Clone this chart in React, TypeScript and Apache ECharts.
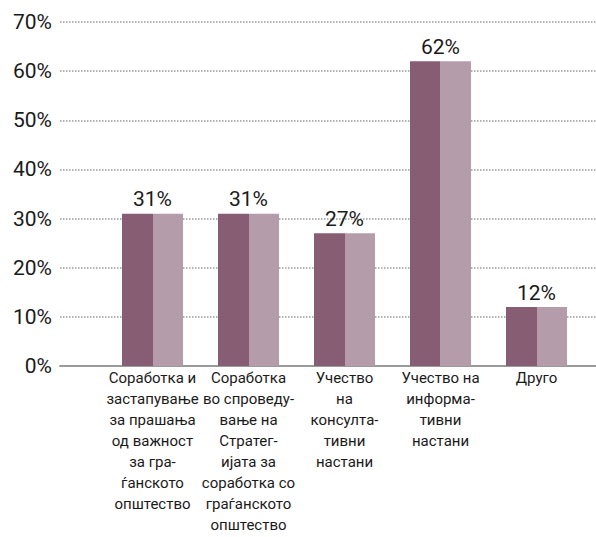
import React, { useEffect, useRef } from "react";
import * as echarts from "echarts";

const categories: string[] = [
  "Соработка и\nзастапување\nза прашања\nод важност\nза гра-\nѓанското\nопштество",
  "Соработка\nво спроведу-\nвање на\nСтратег-\nијата за\nсоработка со\nграѓанското\nопштество",
  "Учество\nна\nконсулта-\nтивни\nнастани",
  "Учество на\nинформа-\nтивни\nнастани",
  "Друго",
];
const values: number[] = [31, 31, 27, 62, 12];
const yTicks: number[] = [0, 10, 20, 30, 40, 50, 60, 70];

const DARK = "#875d74";
const LIGHT = "#b59cab";
const FONT = "Roboto, sans-serif";

export default function App() {
  const ref = useRef<HTMLDivElement>(null);
  useEffect(() => {
    document.body.style.margin = "0";
    if (!ref.current) return;
    const chart = echarts.init(ref.current, null, { renderer: "svg" });
    const barFill = new echarts.graphic.LinearGradient(0, 0, 1, 0, [
      { offset: 0, color: DARK },
      { offset: 0.5, color: DARK },
      { offset: 0.5, color: LIGHT },
      { offset: 1, color: LIGHT },
    ]);
    chart.setOption({
      animation: false,
      backgroundColor: "#ffffff",
      textStyle: { fontFamily: FONT },
      grid: [
        { left: 60, right: 0, top: 22, bottom: 171 },
        { left: 104.5, width: 480, top: 22, bottom: 171 },
      ],
      xAxis: [
        {
          type: "value",
          gridIndex: 0,
          min: 0,
          max: 1,
          axisLine: { show: true, lineStyle: { color: "#9a9a9a", width: 2 } },
          axisTick: { show: false },
          axisLabel: { show: false },
          splitLine: { show: false },
        },
        {
          type: "category",
          gridIndex: 1,
          data: categories,
          axisLine: { show: false },
          axisTick: { show: false },
          axisLabel: {
            interval: 0,
            margin: 1,
            fontSize: 15,
            lineHeight: 21,
            color: "#1a1a1a",
            fontFamily: FONT,
            align: "center",
          },
        },
      ],
      yAxis: [
        {
          type: "value",
          gridIndex: 0,
          min: yTicks[0],
          max: yTicks[yTicks.length - 1],
          interval: 10,
          axisLine: { show: false },
          axisTick: { show: false },
          axisLabel: {
            margin: 8,
            fontSize: 21,
            color: "#1a1a1a",
            fontFamily: FONT,
            formatter: (v: number) => `${v}%`,
          },
          splitLine: {
            show: true,
            lineStyle: { color: "#9a9a9a", width: 1.5, type: [1.5, 1.5] },
          },
        },
        {
          type: "value",
          gridIndex: 1,
          min: yTicks[0],
          max: yTicks[yTicks.length - 1],
          interval: 10,
          show: false,
          splitLine: { show: false },
        },
      ],
      series: [
        {
          type: "bar",
          xAxisIndex: 1,
          yAxisIndex: 1,
          data: values,
          barWidth: 61,
          itemStyle: { color: barFill },
          label: {
            show: true,
            position: "top",
            distance: 4,
            fontSize: 21,
            color: "#1a1a1a",
            fontFamily: FONT,
            formatter: (p: any) => `${p.value}%`,
          },
        },
      ],
    });
    return () => chart.dispose();
  }, []);
  return <div ref={ref} style={{ width: 596, height: 537 }} />;
}
